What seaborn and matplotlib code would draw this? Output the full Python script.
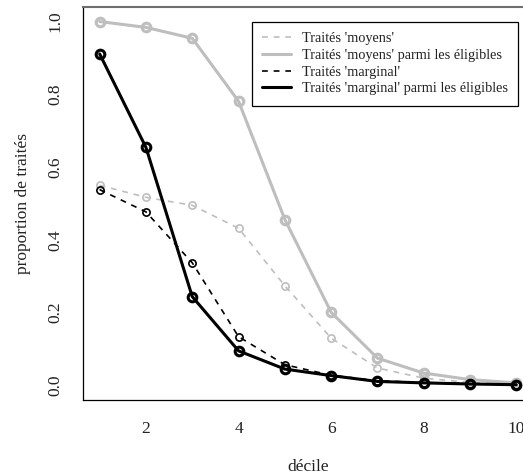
import numpy as np
import pandas as pd
import seaborn as sns
import matplotlib
matplotlib.use("Agg")
import matplotlib.pyplot as plt
from matplotlib.lines import Line2D

# Proportion of treated individuals by decile
decile = list(range(1, 11))
moyens = [0.550, 0.517, 0.495, 0.432, 0.274, 0.130, 0.048, 0.020, 0.008, 0.004]
moyens_eligibles = [1.000, 0.984, 0.954, 0.781, 0.456, 0.201, 0.075, 0.034, 0.016, 0.007]
marginal = [0.538, 0.477, 0.337, 0.134, 0.057, 0.028, 0.013, 0.008, 0.005, 0.002]
marginal_eligibles = [0.911, 0.654, 0.244, 0.095, 0.045, 0.027, 0.011, 0.007, 0.004, 0.002]

series_labels = [
    "Traités 'moyens'",
    "Traités 'moyens' parmi les éligibles",
    "Traités 'marginal'",
    "Traités 'marginal' parmi les éligibles",
]
series_values = [moyens, moyens_eligibles, marginal, marginal_eligibles]
x_ticks = [2, 4, 6, 8, 10]
y_ticks = [0.0, 0.2, 0.4, 0.6, 0.8, 1.0]

sns.set_theme(style="white")
plt.rcParams["font.family"] = ["Liberation Serif", "DejaVu Serif"]

GREY = "#bebebe"
styles = [
    dict(color=GREY, lw=1.2, dashes=(3.5, 3.5), ms=5.2, mew=1.2),
    dict(color=GREY, lw=2.2, dashes=None, ms=6.2, mew=2.2),
    dict(color="black", lw=1.2, dashes=(3.5, 3.5), ms=5.2, mew=1.2),
    dict(color="black", lw=2.2, dashes=None, ms=6.2, mew=2.2),
]

W, H = 523, 476
fig = plt.figure(figsize=(W / 100, H / 100), dpi=100)
left, right, top, bottom = 83, 533, 7, 400
ax = fig.add_axes([left / W, 1 - bottom / H, (right - left) / W, (bottom - top) / H])

for lab, vals, st in zip(series_labels, series_values, styles):
    df = pd.DataFrame({"decile": decile, "prop": vals})
    kw = dict(color=st["color"], linewidth=st["lw"], marker="o",
              markersize=st["ms"], markerfacecolor="none",
              markeredgecolor=st["color"], markeredgewidth=st["mew"])
    if st["dashes"] is not None:
        kw["dashes"] = st["dashes"]
    sns.lineplot(data=df, x="decile", y="prop", ax=ax, legend=False, **kw)

ax.set_xlim(1 - 0.36, 10 + 0.36)
ax.set_ylim(-0.04, 1.04)
ax.set_xticks(x_ticks)
ax.set_xticklabels([str(t) for t in x_ticks])
ax.set_yticks(y_ticks)
ax.set_yticklabels([f"{t:.1f}" for t in y_ticks], rotation=90, va="center")

ax.tick_params(axis="both", direction="out", length=7, width=0.9,
               color="black", labelsize=12.5, labelcolor="#222222")
ax.tick_params(axis="x", pad=8)
ax.tick_params(axis="y", pad=7)

for s in ["left", "bottom"]:
    ax.spines[s].set_color("black")
    ax.spines[s].set_linewidth(0.9)
ax.spines["top"].set_color("#6e6e6e")
ax.spines["top"].set_linewidth(1.5)
ax.spines["right"].set_visible(False)

ax.set_xlabel("décile", fontsize=12.5, color="#222222", labelpad=16)
ax.set_ylabel("proportion de traités", fontsize=12.5, color="#222222", labelpad=12)

handles = []
for lab, st in zip(series_labels, styles):
    h = Line2D([0], [0], color=st["color"], linewidth=st["lw"],
               linestyle=(0, st["dashes"]) if st["dashes"] else "-")
    handles.append(h)

leg = ax.legend(handles, series_labels, loc="upper left",
                bbox_to_anchor=(252 / W, 1 - 21.5 / H),
                bbox_transform=fig.transFigure,
                fontsize=10.3, frameon=True, fancybox=False, framealpha=1,
                edgecolor="black", handlelength=2.0, handletextpad=0.77,
                labelspacing=0.27, borderpad=0.72, borderaxespad=0)
leg.get_frame().set_linewidth(0.9)
for t in leg.get_texts():
    t.set_color("#222222")

fig.savefig("out.png", dpi=100)
